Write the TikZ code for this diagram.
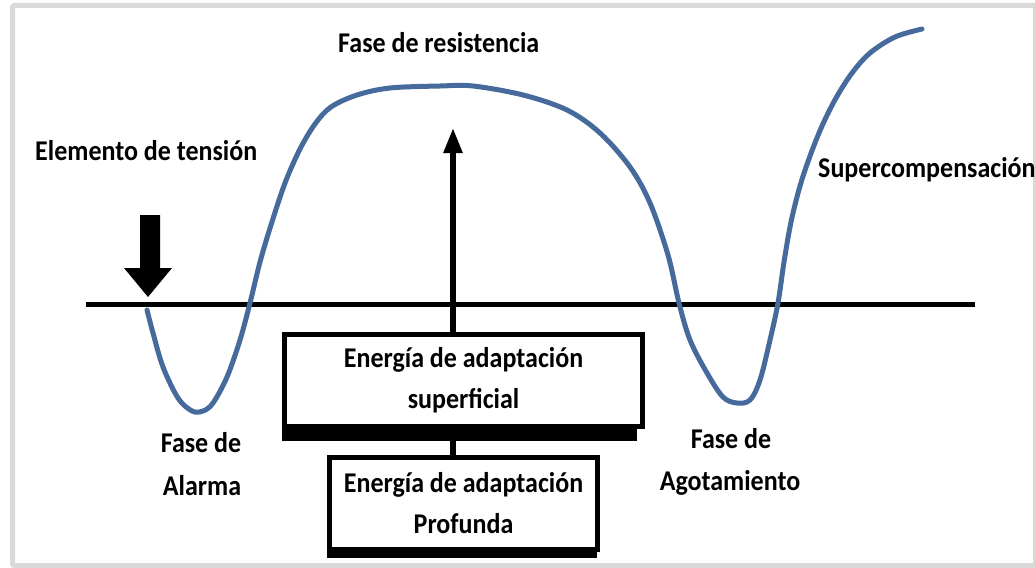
\documentclass[tikz,border=0pt]{standalone}
\usepackage{fontspec}
\setmainfont{Carlito}
\usepackage{graphicx}
\usetikzlibrary{arrows.meta,backgrounds}
\definecolor{curveblue}{RGB}{70,106,155}
\definecolor{framegray}{RGB}{217,217,217}
\newcommand{\tall}[1]{\scalebox{1}[1.1]{#1}}
\begin{document}
\begin{tikzpicture}[x=1pt,y=-1pt,
  lbl/.style={font=\fontsize{26}{42}\selectfont\bfseries, inner sep=0pt},
  boxnode/.style={draw, line width=5pt, fill=white, inner sep=0pt, align=center,
    font=\fontsize{26}{41}\selectfont\bfseries},
  heavy/.style={line width=5.5pt},
  shadowfill/.style={fill=black},
  curve/.style={curveblue, line width=5pt, line cap=round, line join=round}]
\useasboundingbox (0,0) rectangle (1035,567);

% boxes
\node[boxnode, minimum width=358pt, minimum height=92pt] (b1) at (463.5,380)
  {\tall{Energía de adaptación}\\\tall{superficial}};
\node[boxnode, minimum width=268pt, minimum height=92pt] (b2) at (463.5,503.5)
  {\tall{Energía de adaptación}\\\tall{Profunda}};

\begin{scope}[on background layer]
  \fill[white] (0,0) rectangle (1035,567);
  \draw[framegray, line width=5pt, rounded corners=2pt] (12.5,5.5) rectangle (1035.5,565.5);
  \fill[shadowfill] ([yshift=5pt]b1.south west) rectangle ([xshift=-8pt,yshift=-12pt]b1.south east);
  \fill[shadowfill] ([yshift=5pt]b2.south west) rectangle ([xshift=-3pt,yshift=-6pt]b2.south east);
\end{scope}

% baseline
\coordinate (hl) at (86,304.5);
\coordinate (hr) at (975,304.5);
\draw[heavy] (hl) -- (hr);

% connectors
\coordinate (tip) at (453,128);
\draw[heavy, -{Triangle[length=25pt,width=18pt]}] ([xshift=-10.5pt]b1.north) -- (tip);
\draw[heavy] ([xshift=-10.5pt,yshift=-12pt]b1.south) -- ([xshift=-10.5pt]b2.north);

% stress arrow
\fill (140,215) -- (160,215) -- (160,268) -- (172,268) -- (148,297) -- (124,268) -- (140,268) -- cycle;

% curve
\draw[curve] plot[smooth, tension=0.55] coordinates {
  (147,310) (153,333) (163,367) (178,398) (192,411) (203,411) (213,403)
  (227,377) (240,340) (250,303) (260,262) (271,225) (285,183) (300,149)
  (315,124) (331,107) (357,95) (390,88) (440,86) (473,86) (523,95)
  (567,110) (600,133) (630,167) (650,203) (668,255) (679,303) (690,340)
  (707,373) (723,397) (737,403) (750,400) (760,380) (770,340) (778,303)
  (784,262) (791,222) (800,186) (810,156) (822,126) (836,98) (852,73)
  (870,53) (895,37) (922,29)};

% labels
\node[lbl, anchor=base west] (et) at (35,160) {\tall{Elemento de tensión}};
\node[lbl, anchor=base west] (fr) at (338,53) {\tall{Fase de resistencia}};
\node[lbl, anchor=base west] (sc) at (818,177) {\tall{Supercompensación}};
\node[lbl, anchor=base] (fa1) at (201,452) {\tall{Fase de}};
\node[lbl, anchor=base] (fa2) at (202,495) {\tall{Alarma}};
\node[lbl, anchor=base] (fg1) at (731,448) {\tall{Fase de}};
\node[lbl, anchor=base] (fg2) at (730,490) {\tall{Agotamiento}};
\end{tikzpicture}
\end{document}
